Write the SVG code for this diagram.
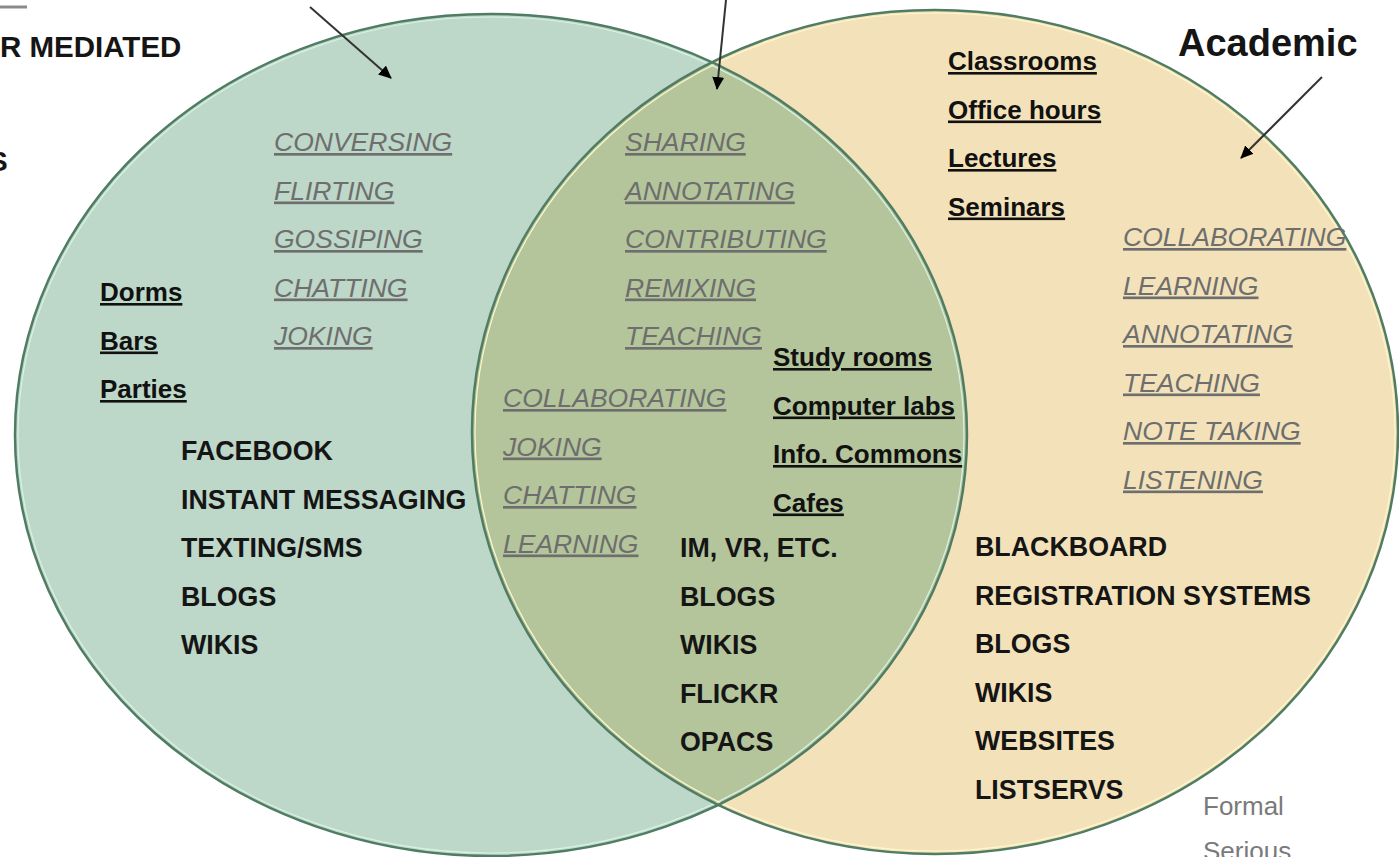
<svg xmlns="http://www.w3.org/2000/svg" width="1399" height="857" viewBox="0 0 1399 857">
<style>
.it{font-family:"Liberation Sans",Arial,sans-serif;font-style:italic;font-size:26.5px;fill:#6e6e6e;text-decoration:underline}
.bu{font-family:"Liberation Sans",Arial,sans-serif;font-weight:bold;font-size:26px;fill:#111;text-decoration:underline}
.bc{font-family:"Liberation Sans",Arial,sans-serif;font-weight:bold;font-size:26.8px;fill:#151515}
.gr{font-family:"Liberation Sans",Arial,sans-serif;font-size:26px;fill:#7a7a7a}
.edge{fill:none;stroke:#4f7c63;stroke-width:2.5}
.hl{fill:none;stroke:#d8f2e4;stroke-width:1.2}
.arr{stroke:#333;stroke-width:2;fill:none}
</style>
<defs>
<marker id="ah" markerWidth="14" markerHeight="14" refX="12" refY="6" orient="auto" markerUnits="userSpaceOnUse">
<path d="M0,0 L13,6 L0,12 Z" fill="#000"/>
</marker>
<clipPath id="clipL"><ellipse cx="491" cy="435" rx="476" ry="421"/></clipPath>
</defs>
<rect width="1399" height="857" fill="#ffffff"/>
<g id="social">
<ellipse cx="491" cy="435" rx="476" ry="421" fill="#bdd7c8"/>
</g>
<g id="academic">
<ellipse cx="935" cy="432" rx="463" ry="422" fill="#f3e2b9"/>
</g>
<g id="overlap">
<ellipse cx="935" cy="432" rx="463" ry="422" fill="#b4c59b" clip-path="url(#clipL)"/>
</g>
<g id="outlines">
<ellipse cx="491" cy="435" rx="473" ry="418" class="hl"/>
<ellipse cx="935" cy="432" rx="460" ry="419" class="hl" style="stroke:#fff6cc"/>
<ellipse cx="491" cy="435" rx="476" ry="421" class="edge"/>
<ellipse cx="935" cy="432" rx="463" ry="422" class="edge"/>
</g>
<g id="connectors">
<line x1="310" y1="7" x2="391" y2="78" class="arr" marker-end="url(#ah)"/>
<line x1="726" y1="0" x2="717" y2="89" class="arr" marker-end="url(#ah)"/>
<line x1="1322" y1="77" x2="1241" y2="158" class="arr" marker-end="url(#ah)"/>
</g>
<g id="labels-outside">
<line x1="0" y1="7" x2="27" y2="7" stroke="#8a8a8a" stroke-width="3"/>
<text x="0" y="57" class="bc" style="font-size:29.5px">R MEDIATED</text>
<text x="-11" y="171" class="bc" style="font-size:28px">S</text>
<text x="1178" y="56" class="bc" style="font-size:38px">Academic</text>
<text x="1203" y="815" class="gr">Formal</text>
<text x="1203" y="860" class="gr">Serious</text>
</g>
<g id="social-text">
<text x="274" y="151" class="it">CONVERSING</text>
<text x="274" y="199.5" class="it">FLIRTING</text>
<text x="274" y="248" class="it">GOSSIPING</text>
<text x="274" y="296.5" class="it">CHATTING</text>
<text x="274" y="345" class="it">JOKING</text>
<text x="100" y="301" class="bu">Dorms</text>
<text x="100" y="349.5" class="bu">Bars</text>
<text x="100" y="398" class="bu">Parties</text>
<text x="181" y="460" class="bc">FACEBOOK</text>
<text x="181" y="508.5" class="bc">INSTANT MESSAGING</text>
<text x="181" y="557" class="bc">TEXTING/SMS</text>
<text x="181" y="605.5" class="bc">BLOGS</text>
<text x="181" y="654" class="bc">WIKIS</text>
</g>
<g id="overlap-text">
<text x="625" y="151" class="it">SHARING</text>
<text x="625" y="199.5" class="it">ANNOTATING</text>
<text x="625" y="248" class="it">CONTRIBUTING</text>
<text x="625" y="296.5" class="it">REMIXING</text>
<text x="625" y="345" class="it">TEACHING</text>
<text x="503" y="407" class="it">COLLABORATING</text>
<text x="503" y="455.5" class="it">JOKING</text>
<text x="503" y="504" class="it">CHATTING</text>
<text x="503" y="552.5" class="it">LEARNING</text>
<text x="773" y="366" class="bu">Study rooms</text>
<text x="773" y="414.5" class="bu">Computer labs</text>
<text x="773" y="463" class="bu">Info. Commons</text>
<text x="773" y="511.5" class="bu">Cafes</text>
<text x="680" y="557" class="bc">IM, VR, ETC.</text>
<text x="680" y="605.5" class="bc">BLOGS</text>
<text x="680" y="654" class="bc">WIKIS</text>
<text x="680" y="702.5" class="bc">FLICKR</text>
<text x="680" y="751" class="bc">OPACS</text>
</g>
<g id="academic-text">
<text x="948" y="70" class="bu">Classrooms</text>
<text x="948" y="118.5" class="bu">Office hours</text>
<text x="948" y="167" class="bu">Lectures</text>
<text x="948" y="215.5" class="bu">Seminars</text>
<text x="1123" y="246" class="it">COLLABORATING</text>
<text x="1123" y="294.5" class="it">LEARNING</text>
<text x="1123" y="343" class="it">ANNOTATING</text>
<text x="1123" y="391.5" class="it">TEACHING</text>
<text x="1123" y="440" class="it">NOTE TAKING</text>
<text x="1123" y="488.5" class="it">LISTENING</text>
<text x="975" y="556" class="bc">BLACKBOARD</text>
<text x="975" y="604.5" class="bc">REGISTRATION SYSTEMS</text>
<text x="975" y="653" class="bc">BLOGS</text>
<text x="975" y="701.5" class="bc">WIKIS</text>
<text x="975" y="750" class="bc">WEBSITES</text>
<text x="975" y="798.5" class="bc">LISTSERVS</text>
</g>
</svg>
